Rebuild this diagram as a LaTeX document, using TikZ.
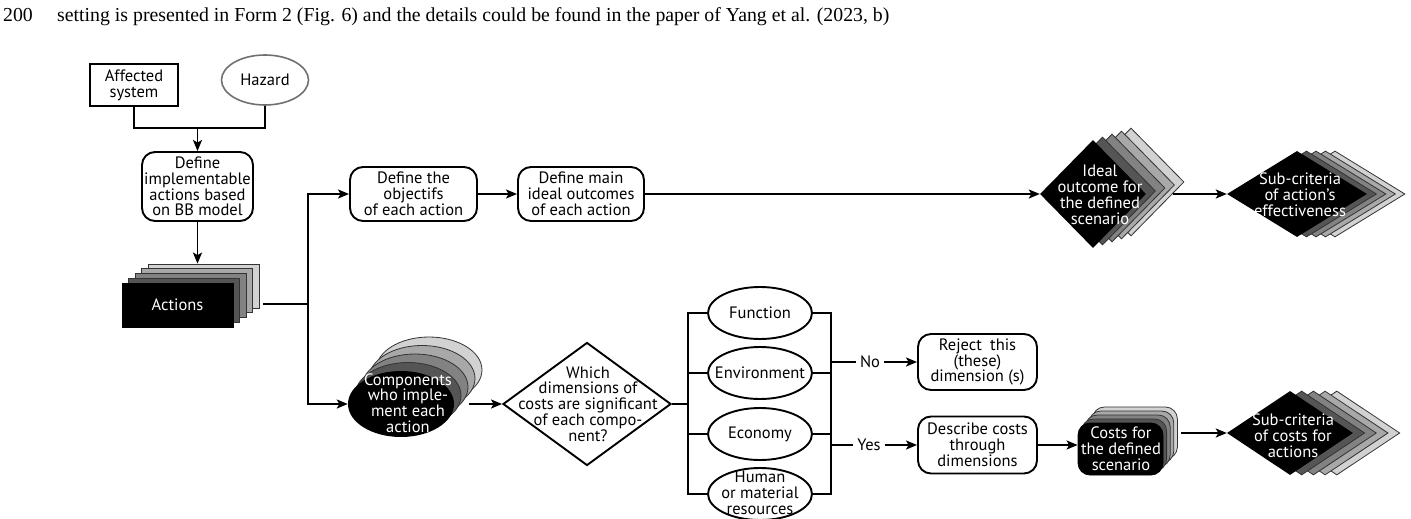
\documentclass[tikz,border=0pt]{standalone}
\usepackage{fontspec}
\setmainfont{PT Sans}
\newfontfamily\headfont{Liberation Serif}
\usetikzlibrary{arrows.meta,shapes.geometric}

\definecolor{layA}{HTML}{555555}
\definecolor{layB}{HTML}{828282}
\definecolor{layC}{HTML}{A8A8A8}
\definecolor{layD}{HTML}{D2D2D2}
\definecolor{layedge}{HTML}{333333}
\definecolor{hazedge}{HTML}{707070}

\begin{document}
\begin{tikzpicture}[x=1pt,y=-1pt,
  every node/.style={font=\fontsize{16.5}{15.8}\selectfont, align=center, inner sep=0pt},
  ln/.style={line width=1.9pt},
  arr/.style={ln, -{Stealth[length=11pt,width=9pt,inset=2.5pt]}},
  rbox/.style={draw, line width=1.9pt, rounded corners=13pt},
  layer/.style={draw=layedge, line width=0.8pt},
  wtxt/.style={text=white},
  lbl/.style={inner sep=4pt},
  dimell/.style={ellipse, draw, line width=1.9pt, minimum width=104pt, minimum height=52pt}
]
\useasboundingbox (0,0) rectangle (1411,519);

% running text line above the figure
\node[anchor=base west, font=\headfont\fontsize{19.8}{22}\selectfont] (lno) at (3,22) {200};
\node[anchor=base west, font=\headfont\fontsize{19.8}{22}\selectfont] (run) at (57,22)
  {setting is presented in Form 2 (Fig. 6) and the details could be found in the paper of Yang et al. (2023, b)};

% inputs
\node[draw, line width=1.9pt, minimum width=88pt, minimum height=42pt] (aff) at (134,85) {Affected\\system};
\node[ellipse, draw=hazedge, line width=1.6pt, minimum width=87pt, minimum height=50pt] (haz) at (265,80) {Hazard};
\node[rbox, minimum width=111pt, minimum height=69pt] (def) at (197.5,186.5)
  {Define\\implementable\\actions based\\on BB model};
\coordinate (join) at (197.5,128);
\draw[ln] (aff.south) |- (join) -| (haz.south);
\draw[arr] (join) -- (def.north);

% stack of actions
\foreach \k/\c in {4/layD,3/layC,2/layB,1/layA}
  \node[layer, fill=\c, minimum width=111pt, minimum height=44pt] (act\k) at (177.5+\k*6.5,305-\k*4.75) {};
\node[fill=black, draw=black, line width=0.8pt, minimum width=111pt, minimum height=44pt] (act) at (177.5,305) {};
\node[wtxt] (act-t) at (act) {Actions};
\draw[arr] (def.south) -- (def.south |- act4.north);

% upper branch: effectiveness
\node[rbox, minimum width=127pt, minimum height=54pt] (obj) at (413.5,194) {Define the\\objectifs\\of each action};
\node[rbox, minimum width=126pt, minimum height=54pt] (main) at (581,194) {Define main\\ideal outcomes\\of each action};

\foreach \k/\c in {4/layD,3/layC,2/layB,1/layA}
  \node[diamond, layer, fill=\c, minimum width=106pt, minimum height=108pt] (ideal\k) at (1093+\k*9.5,194-\k*3) {};
\node[diamond, fill=black, minimum width=106pt, minimum height=108pt] (ideal) at (1093,194) {};
\node[wtxt] (ideal-t) at (1100,195) {Ideal\\outcome for\\the defined\\scenario};

\foreach \k/\c in {4/layD,3/layC,2/layB,1/layA}
  \node[diamond, layer, fill=\c, minimum width=140pt, minimum height=86pt] (subeff\k) at (1297+\k*9.5,194) {};
\node[diamond, fill=black, minimum width=140pt, minimum height=86pt] (subeff) at (1297,194) {};
\node[wtxt] (subeff-t) at (1300,195) {Sub-criteria\\of action’s\\effectiveness};

% lower branch: costs
\foreach \k/\c in {4/layD,3/layC,2/layB,1/layA}
  \node[ellipse, layer, fill=\c, minimum width=106pt, minimum height=66pt] (comp\k) at (401+\k*7,404-\k*8.5) {};
\node[ellipse, fill=black, minimum width=106pt, minimum height=66pt] (comp) at (401,404) {};
\node[wtxt] (comp-t) at (408,403) {Components\\who imple-\\ment each\\action};

\node[diamond, draw, fill=white, line width=1.9pt, minimum width=168pt, minimum height=123pt] (which) at (587,404) {};
\node (which-t) at (588,404) {Which\\dimensions of\\costs are significant\\of each compo-\\nent?};

\node[dimell] (fun) at (760,313) {};
\node (fun-t) at (fun) {Function};
\node[dimell] (env) at (760,373) {};
\node (env-t) at (env) {Environment};
\node[dimell] (eco) at (760,434) {};
\node (eco-t) at (eco) {Economy};
\node[dimell] (hum) at (760,494) {};
\node (hum-t) at (760,493) {Human\\or material\\resources};

\node[rbox, minimum width=119pt, minimum height=56pt] (rej) at (977.5,362) {Reject\enspace this\\(these)\\dimension (s)};
\node[rbox, minimum width=119pt, minimum height=57pt] (desc) at (977.5,445) {Describe costs\\through\\dimensions};

\foreach \k/\c in {4/layD,3/layC,2/layB,1/layA}
  \node[layer, fill=\c, rounded corners=12pt, minimum width=85pt, minimum height=52pt] (cost\k) at (1120.5+\k*3.6,449-\k*4) {};
\node[fill=black, draw=black, line width=0.8pt, rounded corners=12pt, minimum width=85pt, minimum height=52pt] (cost) at (1120.5,449) {};
\node[wtxt] (cost-t) at (1121,449) {Costs for\\the defined\\scenario};

\foreach \k/\c in {4/layD,3/layC,2/layB,1/layA}
  \node[diamond, layer, fill=\c, minimum width=126pt, minimum height=84pt] (subcost\k) at (1290+\k*11.7,433) {};
\node[diamond, fill=black, minimum width=126pt, minimum height=84pt] (subcost) at (1290,433) {};
\node[wtxt] (subcost-t) at (1293,436) {Sub-criteria\\of costs for\\actions};

% connectors
\coordinate (actout) at (263,304);
\coordinate (split) at (308,304);
\draw[ln] (actout) -- (split);
\draw[arr] (split) |- (obj.west);
\draw[arr] (split) |- (comp.west);
\draw[arr] (obj.east) -- (main.west);
\draw[arr] (main.east) -- (ideal.west);
\coordinate (idealout) at (1173,194);
\draw[arr] (idealout) -- (subeff.west);

\coordinate (compout) at (469,404);
\draw[arr] (compout) -- (which.west);
\coordinate (busL) at (688,404);
\coordinate (busR) at (831,404);
\draw[ln] (which.east) -- (busL);
\draw[ln] (fun.west) -| (busL) |- (hum.west);
\draw[ln] (env.west) -- (env.west -| busL);
\draw[ln] (eco.west) -- (eco.west -| busL);
\draw[ln] (fun.east) -| (busR) |- (hum.east);
\draw[ln] (env.east) -- (env.east -| busR);
\draw[ln] (eco.east) -- (eco.east -| busR);

\node[lbl] (no) at (870,362) {No};
\node[lbl] (yes) at (869,445) {Yes};
\draw[ln] (busR |- no.west) -- (no.west);
\draw[arr] (no.east) -- (rej.west);
\draw[ln] (busR |- yes.west) -- (yes.west);
\draw[arr] (yes.east) -- (desc.west);
\draw[arr] (desc.east) -- (desc.east -| cost.west);
\coordinate (costout) at (1181,433);
\draw[arr] (costout) -- (subcost.west);
\end{tikzpicture}
\end{document}
